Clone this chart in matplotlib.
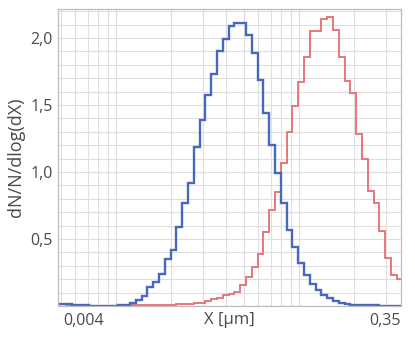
import numpy as np
import matplotlib
matplotlib.use("Agg")
import matplotlib.pyplot as plt
from matplotlib.ticker import LogLocator, MultipleLocator, NullFormatter

# 粒径分档边界 (µm)，读自图中
bin_edges = [0.004618, 0.004968, 0.005344, 0.005749, 0.006184, 0.006652, 0.007156,
             0.007698, 0.008281, 0.008908, 0.009582, 0.010308, 0.011088, 0.011928,
             0.012831, 0.013803, 0.014848, 0.015972, 0.017182, 0.018483, 0.019882,
             0.021388, 0.023007, 0.024749, 0.026623, 0.028639, 0.030808, 0.033140,
             0.035649, 0.038349, 0.041252, 0.044376, 0.047736, 0.051351, 0.055239,
             0.059421, 0.063921, 0.068761, 0.073967, 0.079568, 0.085593, 0.092074,
             0.099045, 0.106545, 0.114612, 0.123290, 0.132626, 0.142668, 0.153471,
             0.165091, 0.177592, 0.191039, 0.205504, 0.221065, 0.237803, 0.255810,
             0.275179, 0.296016, 0.318430, 0.342541, 0.368477]

# 蓝色分布 dN/N/dlog(dX)
blue_vals = [0.015, 0.015, 0.012, 0.008, 0.005, 0.004, 0.003, 0.003, 0.003, 0.003,
             0.003, 0.004, 0.008, 0.02, 0.045, 0.075, 0.14, 0.18, 0.24, 0.35,
             0.42, 0.59, 0.77, 0.92, 1.19, 1.39, 1.575, 1.73, 1.90, 1.99,
             2.09, 2.11, 2.11, 2.02, 1.89, 1.69, 1.44, 1.20, 0.995, 0.77,
             0.57, 0.44, 0.32, 0.23, 0.165, 0.12, 0.08, 0.057, 0.035, 0.022,
             0.013, 0.008, 0.006, 0.005, 0.004, 0.004, 0.003, 0.003, 0.003, 0.003]

# 红色分布
red_vals = [0.015, 0.014, 0.010, 0.006, 0.004, 0.003, 0.003, 0.003, 0.003, 0.003,
            0.003, 0.003, 0.003, 0.004, 0.004, 0.005, 0.005, 0.006, 0.007, 0.008,
            0.010, 0.012, 0.015, 0.017, 0.020, 0.025, 0.035, 0.05, 0.06, 0.08,
            0.09, 0.107, 0.16, 0.22, 0.29, 0.39, 0.55, 0.72, 0.85, 1.065,
            1.30, 1.49, 1.67, 1.86, 2.05, 2.05, 2.14, 2.155, 2.06, 1.86,
            1.68, 1.59, 1.28, 1.10, 0.86, 0.77, 0.56, 0.356, 0.23, 0.20]

y_ticks = [0.5, 1.0, 1.5, 2.0]
y_tick_labels = ["0,5", "1,0", "1,5", "2,0"]

plt.rcParams["font.family"] = ["Open Sans", "DejaVu Sans"]
txt_color = "#4a4a4a"

fig = plt.figure(figsize=(4.15, 3.40), dpi=100)
ax = fig.add_axes([0.1398, 0.10, 0.8265, 0.8735])

ax.stairs(red_vals, bin_edges, baseline=None, color="#e8777a", lw=1.4)
ax.stairs(blue_vals, bin_edges, baseline=None, color="#4768bb", lw=1.7)

ax.set_xscale("log")
ax.set_xlim(0.00482, 0.3608)
ax.set_ylim(0, 2.216)

# 网格
ax.xaxis.set_major_locator(LogLocator(base=10, numticks=10))
ax.xaxis.set_minor_locator(LogLocator(base=10, subs=np.arange(2, 10), numticks=20))
ax.yaxis.set_major_locator(MultipleLocator(0.5))
ax.yaxis.set_minor_locator(MultipleLocator(0.1))
ax.grid(which="both", color="#dedede", lw=0.8)
ax.set_axisbelow(True)

ax.set_yticks(y_ticks)
ax.set_yticklabels(y_tick_labels, fontsize=11.5, color=txt_color)
ax.tick_params(axis="y", which="both", length=0, pad=4)
ax.xaxis.set_major_formatter(NullFormatter())
ax.xaxis.set_minor_formatter(NullFormatter())
ax.tick_params(axis="x", which="both", length=0)

for sp in ax.spines.values():
    sp.set_color("#bdbdbd")
    sp.set_linewidth(0.9)

ax.text(0.015, -0.022, "0,004", transform=ax.transAxes, ha="left", va="top",
        fontsize=11.5, color=txt_color)
ax.text(1.0, -0.022, "0,35", transform=ax.transAxes, ha="right", va="top",
        fontsize=11.5, color=txt_color)
ax.set_xlabel("X [µm]", fontsize=12, color=txt_color, labelpad=1)
ax.set_ylabel("dN/N/dlog(dX)", fontsize=13, color=txt_color, labelpad=4)

fig.savefig("out.png", dpi=100)
